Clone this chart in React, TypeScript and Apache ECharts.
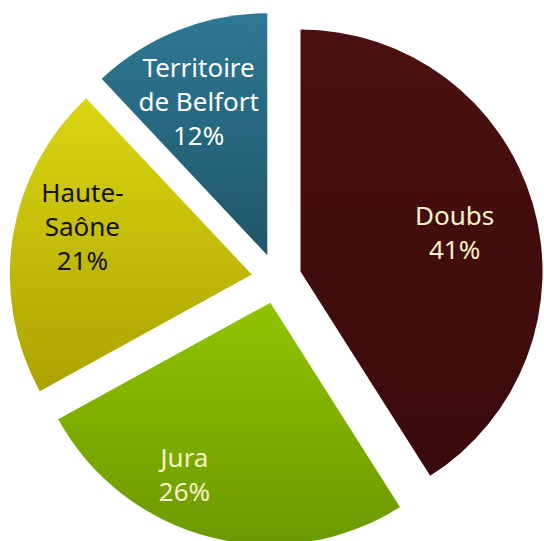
import React, { useEffect, useRef } from "react";
import * as echarts from "echarts";

const categories = ["Doubs", "Jura", "Haute-Saône", "Territoire de Belfort"];
const labelTexts = ["Doubs", "Jura", "Haute-\nSaône", "Territoire\nde Belfort"];
const values = [41, 26, 21, 12];

const topColors = ["#4c1010", "#90c400", "#dad612", "#2f7894"];
const bottomColors = ["#3a0a0a", "#6c9800", "#aca200", "#1f5669"];
const labelColors = ["#f7f2c6", "#f7f2c6", "#111111", "#ffffff"];
const labelShift = [
  [35, -5],
  [-55, 51],
  [-47, -29],
  [-23, -39],
];

export default function App() {
  const ref = useRef<HTMLDivElement>(null);
  useEffect(() => {
    if (!ref.current) return;
    const chart = echarts.init(ref.current, null, { renderer: "svg" });
    chart.setOption({
      animation: false,
      backgroundColor: "#ffffff",
      series: [
        {
          type: "pie",
          center: [276.5, 278.5],
          radius: [0, 242],
          startAngle: 90,
          clockwise: true,
          selectedMode: "multiple",
          selectedOffset: 25,
          silent: true,
          emphasis: { disabled: true },
          labelLine: { show: false },
          label: {
            show: true,
            position: "inside",
            fontFamily: "'Noto Sans', sans-serif",
            fontSize: 26,
            lineHeight: 34,
            align: "center",
            formatter: (p: any) => `${labelTexts[p.dataIndex]}\n${p.value}%`,
          },
          labelLayout: (p: any) => ({
            dx: labelShift[p.dataIndex][0],
            dy: labelShift[p.dataIndex][1],
          }),
          data: categories.map((name, i) => ({
            name,
            value: values[i],
            selected: true,
            itemStyle: {
              color: {
                type: "linear",
                x: 0,
                y: 0,
                x2: 0,
                y2: 1,
                colorStops: [
                  { offset: 0, color: topColors[i] },
                  { offset: 1, color: bottomColors[i] },
                ],
              },
            },
            label: { color: labelColors[i] },
          })),
        },
      ],
    });
    return () => chart.dispose();
  }, []);
  return (
    <div
      ref={ref}
      style={{ position: "absolute", left: 0, top: 0, width: 544, height: 541 }}
    />
  );
}
